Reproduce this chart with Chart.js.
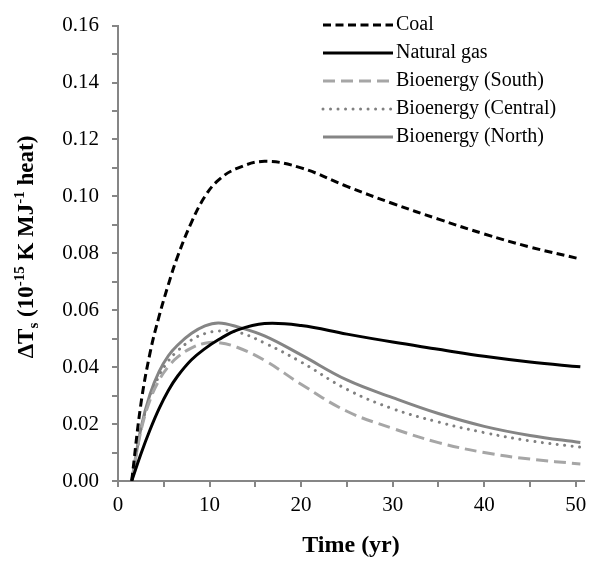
<!DOCTYPE html>
<html>
<head>
<meta charset="utf-8">
<script src="https://cdn.jsdelivr.net/npm/chart.js@4"></script>
<style>
  body { margin: 0; background: #fff; }
</style>
</head>
<body>
<canvas id="chart" width="594" height="562"></canvas>
<script>
// values
var years = [1.5, 2.5, 3.5, 4.5, 5.5, 6.5, 8, 9.5, 11, 13, 16, 20, 25, 30, 35, 40, 45, 50.5];
var coal = [0, 0.027, 0.045, 0.058, 0.069, 0.0788, 0.0907, 0.1000, 0.1058, 0.1098, 0.1123, 0.110, 0.1035, 0.0975, 0.092, 0.0868, 0.0822, 0.078];
var naturalGas = [0, 0.0095, 0.018, 0.0255, 0.0318, 0.0368, 0.0425, 0.0465, 0.0497, 0.053, 0.0553, 0.0546, 0.0516, 0.0488, 0.0463, 0.0438, 0.0418, 0.0401];
var bioSouth = [0, 0.0175, 0.0285, 0.0355, 0.0402, 0.0435, 0.0467, 0.0484, 0.0486, 0.047, 0.0424, 0.034, 0.0245, 0.0185, 0.0135, 0.0100, 0.0077, 0.006];
var bioCentral = [0, 0.018, 0.0295, 0.037, 0.0422, 0.0457, 0.0495, 0.0518, 0.0527, 0.0524, 0.0485, 0.0418, 0.0322, 0.0254, 0.0207, 0.0170, 0.0141, 0.0119];
var bioNorth = [0, 0.0185, 0.0305, 0.0385, 0.044, 0.0477, 0.0518, 0.0545, 0.0555, 0.0542, 0.051, 0.0443, 0.0355, 0.0293, 0.0237, 0.0192, 0.0160, 0.0135];

var xTicks = [0, 5, 10, 15, 20, 25, 30, 35, 40, 45, 50];
var xTickLabels = ['0', '', '10', '', '20', '', '30', '', '40', '', '50'];
var yTicks = [0, 0.01, 0.02, 0.03, 0.04, 0.05, 0.06, 0.07, 0.08, 0.09, 0.10, 0.11, 0.12, 0.13, 0.14, 0.15, 0.16];
var yTickLabels = ['0.00', '', '0.02', '', '0.04', '', '0.06', '', '0.08', '', '0.10', '', '0.12', '', '0.14', '', '0.16'];

var serif = "'Liberation Serif', 'Times New Roman', serif";
var axisGray = '#868686';

function pts(ys) {
  return years.map(function (x, i) { return { x: x, y: ys[i] }; });
}

function series(label, ys, color, dash, cap) {
  return {
    label: label,
    data: pts(ys),
    borderColor: color,
    borderWidth: 3,
    borderDash: dash,
    borderCapStyle: cap || 'butt',
    pointRadius: 0,
    fill: false,
    tension: 0.4
  };
}

// legend drawn inside the plot area, top right
var insideLegend = {
  id: 'insideLegend',
  afterDraw: function (chart) {
    var ctx = chart.ctx;
    var x0 = 323, x1 = 393, y = 25, step = 28;
    ctx.save();
    chart.data.datasets.forEach(function (ds, i) {
      var yy = y + i * step;
      ctx.beginPath();
      ctx.setLineDash(ds.borderDash || []);
      ctx.lineCap = ds.borderCapStyle;
      ctx.strokeStyle = ds.borderColor;
      ctx.lineWidth = ds.borderWidth;
      ctx.moveTo(x0, yy);
      ctx.lineTo(x1, yy);
      ctx.stroke();
      ctx.setLineDash([]);
      ctx.fillStyle = '#000';
      ctx.font = '20px ' + serif;
      ctx.textBaseline = 'middle';
      ctx.textAlign = 'left';
      ctx.fillText(ds.label, x1 + 3, yy);
    });
    ctx.restore();
  }
};

// rotated y title with sub/superscripts
var yTitle = {
  id: 'yTitle',
  afterDraw: function (chart) {
    var ctx = chart.ctx;
    var parts = [
      ['\u0394T', 0, 23],
      ['s', 5, 15],
      [' (10', 0, 23],
      ['-15', -9, 15],
      [' K MJ', 0, 23],
      ['-1', -9, 15],
      [' heat)', 0, 23]
    ];
    ctx.save();
    var total = 0;
    parts.forEach(function (p) {
      ctx.font = 'bold ' + p[2] + 'px ' + serif;
      total += ctx.measureText(p[0]).width;
    });
    ctx.translate(33, 247);
    ctx.rotate(-Math.PI / 2);
    ctx.fillStyle = '#000';
    ctx.textBaseline = 'alphabetic';
    ctx.textAlign = 'left';
    var x = -total / 2;
    parts.forEach(function (p) {
      ctx.font = 'bold ' + p[2] + 'px ' + serif;
      ctx.fillText(p[0], x, p[1]);
      x += ctx.measureText(p[0]).width;
    });
    ctx.restore();
  }
};

new Chart(document.getElementById('chart'), {
  type: 'line',
  data: {
    datasets: [
      series('Coal', coal, '#000000', [8, 4.5]),
      series('Natural gas', naturalGas, '#000000', []),
      series('Bioenergy (South)', bioSouth, '#a6a6a6', [12, 6]),
      series('Bioenergy (Central)', bioCentral, '#808080', [0.01, 7.5], 'round'),
      series('Bioenergy (North)', bioNorth, '#858585', [])
    ]
  },
  options: {
    responsive: false,
    animation: false,
    layout: { padding: { left: 50, top: 18, right: 10, bottom: 0 } },
    plugins: {
      legend: { display: false },
      tooltip: { enabled: false }
    },
    scales: {
      x: {
        type: 'linear',
        min: 0,
        max: 50.9,
        afterBuildTicks: function (scale) {
          scale.ticks = xTicks.map(function (v) { return { value: v }; });
        },
        afterFit: function (scale) { scale.height = 81; },
        border: { color: axisGray, width: 2 },
        grid: { drawOnChartArea: false, color: axisGray, lineWidth: 2, tickLength: 6 },
        ticks: {
          color: '#000',
          font: { family: serif, size: 21 },
          padding: 6,
          maxRotation: 0,
          autoSkip: false,
          callback: function (v) { return xTickLabels[xTicks.indexOf(v)]; }
        },
        title: {
          display: true,
          text: 'Time (yr)',
          color: '#000',
          font: { family: serif, size: 24, weight: 'bold' },
          padding: { top: 0, bottom: 2 }
        }
      },
      y: {
        min: 0,
        max: 0.16,
        afterBuildTicks: function (scale) {
          scale.ticks = yTicks.map(function (v) { return { value: v }; });
        },
        afterFit: function (scale) { scale.width = 68; },
        border: { color: axisGray, width: 2 },
        grid: { drawOnChartArea: false, color: axisGray, lineWidth: 2, tickLength: 6 },
        ticks: {
          color: '#000',
          font: { family: serif, size: 21 },
          padding: 13,
          autoSkip: false,
          callback: function (v) {
            var i = yTicks.findIndex(function (t) { return Math.abs(t - v) < 1e-9; });
            return yTickLabels[i];
          }
        }
      }
    }
  },
  plugins: [insideLegend, yTitle]
});
</script>
</body>
</html>
